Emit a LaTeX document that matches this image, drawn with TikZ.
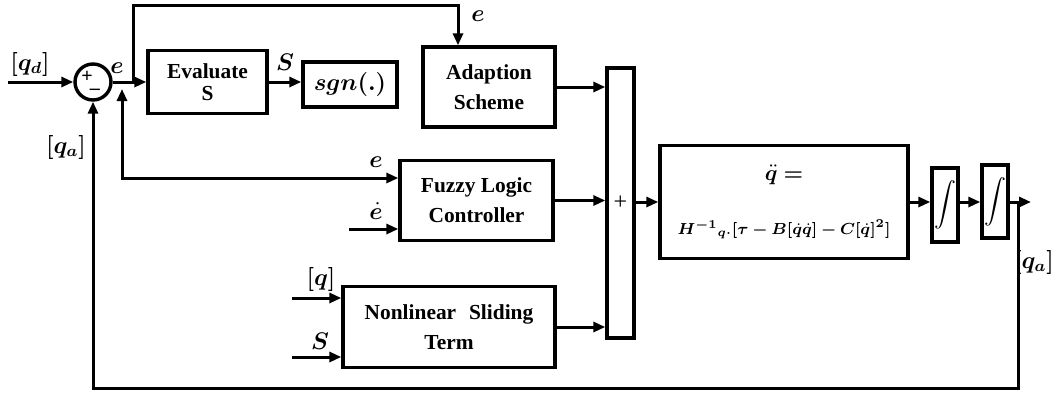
\documentclass[tikz,border=0pt]{standalone}
\usepackage{fontspec}
\setmainfont{Liberation Serif}
\usepackage{amsmath,bm}
\usetikzlibrary{positioning, arrows.meta}

\begin{document}
\begin{tikzpicture}[
  x=0.5pt, y=-0.5pt,
  every node/.style={font=\fontsize{10.7}{15}\selectfont},
  blk/.style={rectangle, draw, line width=1.7pt, align=center, inner sep=0pt,
              font=\fontsize{10.7}{15}\selectfont\bfseries},
  intg/.style={rectangle, draw, line width=1.7pt, minimum width=13pt,
               minimum height=37pt, inner sep=0pt},
  sumc/.style={circle, draw, line width=1.7pt, minimum size=18pt, inner sep=0pt},
  lbl/.style={inner sep=0pt, font=\fontsize{11.5}{14}\selectfont},
  arrow/.style={-{Triangle[length=6pt, width=5pt]}, line width=1.5pt},
  both/.style={{Triangle[length=6pt, width=5pt]}-{Triangle[length=6pt, width=5pt]},
               line width=1.5pt},
]
  \useasboundingbox (0,0) rectangle (1051,392);

  % blocks
  \node[sumc] (sum) at (93,82) {};
  \node[lbl, font=\fontsize{10}{10}\selectfont\bfseries] (plus) at (87,77) {+};
  \node[lbl, font=\fontsize{10}{10}\selectfont\bfseries] (minus) at (95,92) {--};
  \node[blk, minimum width=59.5pt, minimum height=31.5pt] (evals) at (207.5,82) {Evaluate\\[-4pt]S};
  \node[blk, minimum width=47pt, minimum height=22.5pt, font=\fontsize{12.5}{14}\selectfont]
       (sgn) at (350,84.5) {$\bm{sgn(.)}$};
  \node[blk, minimum width=66pt, minimum height=40pt] (adapt) at (489,87) {Adaption\\Scheme};
  \node[blk, minimum width=76.5pt, minimum height=40pt] (flc) at (476.5,200.5) {Fuzzy Logic\\Controller};
  \node[blk, minimum width=106pt, minimum height=40.5pt] (nst) at (449,327)
       {Nonlinear\hspace{0.6em}Sliding\\Term};
  \node[blk, minimum width=13.5pt, minimum height=135pt, font=\fontsize{12}{14}\selectfont]
       (add) at (620.5,203) {+};
  \node[blk, minimum width=124pt, minimum height=56.5pt, font=\fontsize{8.1}{10}\selectfont]
       (dyn) at (784,202)
       {\fontsize{11}{12}\selectfont$\bm{\ddot{q}=}$\\[17pt]
        $\bm{H^{-1}{}_{q\cdot}[\tau-B[\dot q\dot q]-C[\dot q]^2]}$};
  \node[intg] (int1) at (945,205) {$\displaystyle\int$};
  \node[intg, minimum height=36.5pt] (int2) at (995,201.5) {$\displaystyle\int$};

  % free ends and bends
  \coordinate (qdin) at (8,82);
  \coordinate (etap) at (133,82);
  \coordinate (etop) at (133,5);
  \coordinate (eup) at (122,89);
  \coordinate (ebend) at (122,178);
  \coordinate (edin) at (349,229);
  \coordinate (qin) at (292,298);
  \coordinate (sin) at (292,357);
  \coordinate (out) at (1031,202);
  \coordinate (fbtap) at (1018,202);
  \coordinate (fbbot) at (1018,388);

  % labels
  \node[lbl] (lqd) at (30,64) {$\bm{[q_d]}$};
  \node[lbl] (le1) at (117,68) {$\bm{e}$};
  \node[lbl] (le2) at (478,16) {$\bm{e}$};
  \node[lbl] (ls1) at (285,62) {$\bm{S}$};
  \node[lbl] (lqa1) at (66,147) {$\bm{[q_a]}$};
  \node[lbl] (le3) at (376,162) {$\bm{e}$};
  \node[lbl] (led) at (376,211) {$\bm{\dot e}$};
  \node[lbl] (lq) at (321,279) {$\bm{[q]}$};
  \node[lbl] (ls2) at (320,341) {$\bm{S}$};
  \node[lbl] (lqa2) at (1034,262) {$\bm{[q_a]}$};

  % connectors
  \draw[arrow] (qdin) -- (sum.west);
  \draw[arrow] (sum.east) -- (evals.west);
  \draw[arrow] (etap) -- (etop) -| ([xshift=-15.5pt]adapt.north);
  \draw[arrow] (evals.east) -- (evals.east -| sgn.west);
  \draw[arrow] (adapt.east) -- (adapt.east -| add.west);
  \draw[both] (eup) -- (ebend) -- (ebend -| flc.west);
  \draw[arrow] (edin) -- (edin -| flc.west);
  \draw[arrow] (flc.east) -- (flc.east -| add.west);
  \draw[arrow] (qin) -- (qin -| nst.west);
  \draw[arrow] (sin) -- (sin -| nst.west);
  \draw[arrow] (nst.east) -- (nst.east -| add.west);
  \draw[arrow] (add.east |- dyn.west) -- (dyn.west);
  \draw[arrow] (dyn.east) -- (dyn.east -| int1.west);
  \draw[arrow] (int1.east |- dyn.east) -- (dyn.east -| int2.west);
  \draw[arrow] (int2.east |- dyn.east) -- (out);
  \draw[arrow] (fbtap) -- (fbbot) -| (sum.south);

\end{tikzpicture}
\end{document}
